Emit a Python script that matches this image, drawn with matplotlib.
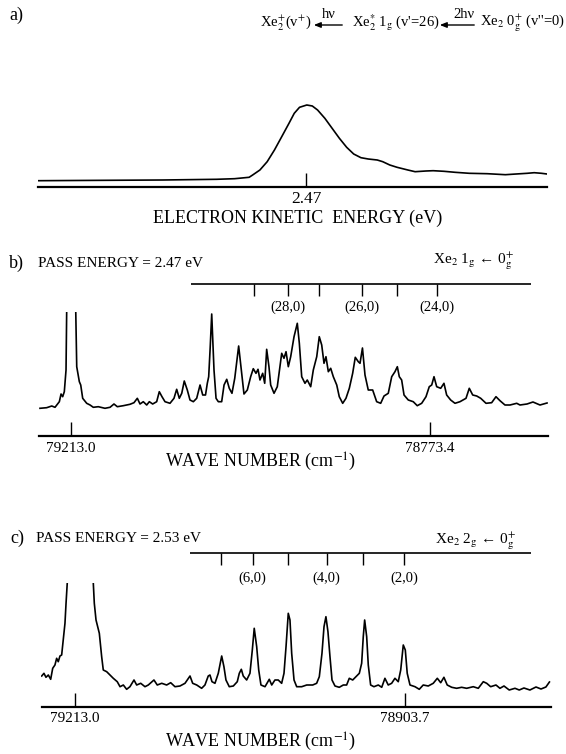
import numpy as np
import matplotlib
matplotlib.use("Agg")
import matplotlib.pyplot as plt

plt.rcParams['font.family'] = ['Liberation Serif', 'DejaVu Serif']
plt.rcParams['mathtext.fontset'] = 'stix'

# ---------------- data ----------------
# a) electron kinetic energy spectrum
a_energy = [1.400, 1.680, 1.897, 2.112, 2.184, 2.242, 2.256, 2.285, 2.314, 2.343,
            2.372, 2.401, 2.422, 2.443, 2.472, 2.494, 2.515, 2.544, 2.573, 2.602,
            2.631, 2.659, 2.688, 2.717, 2.753, 2.775, 2.803, 2.832, 2.875, 2.904,
            2.947, 2.976, 3.019, 3.063, 3.120, 3.192, 3.264, 3.307, 3.351, 3.379,
            3.408, 3.430]
a_signal = [0.3, 0.7, 1.0, 1.7, 2.3, 3.7, 6.0, 11.0, 19.3, 31.0,
            44.3, 57.7, 67.7, 73.7, 76.0, 75.0, 71.0, 62.7, 52.7, 42.7,
            33.7, 27.0, 23.3, 22.0, 21.0, 19.3, 16.0, 13.7, 11.0, 9.3,
            10.0, 10.3, 9.7, 8.7, 7.7, 7.3, 6.3, 7.0, 7.7, 8.3,
            7.7, 7.0]
a_tick = [2.47]
a_tick_labels = ['2.47']

# b) pass energy 2.47 eV
b_wavenumber = [79251.0, 79242.8, 79236.6, 79232.6, 79227.3, 79225.2, 79223.2, 79221.2, 79219.1, 79218.3,
                79213.0, 79207.2, 79206.0, 79202.8, 79201.1, 79198.7, 79193.8, 79189.7, 79185.7, 79179.6,
                79171.4, 79165.2, 79160.4, 79156.3, 79149.0, 79140.8, 79135.9, 79131.8, 79128.5, 79124.5,
                79120.3, 79117.1, 79113.0, 79108.1, 79104.9, 79101.6, 79097.9, 79091.8, 79086.9, 79083.6,
                79080.4, 79077.4, 79074.3, 79070.6, 79067.3, 79063.2, 79059.1, 79055.0, 79051.7, 79048.3,
                79046.1, 79044.4, 79042.6, 79040.7, 79037.9, 79035.4, 79032.6, 79028.5, 79025.6, 79022.3,
                79019.2, 79015.9, 79012.5, 79007.7, 79004.5, 79001.2, 78997.1, 78993.0, 78989.8, 78986.5,
                78984.0, 78981.6, 78978.3, 78975.8, 78973.4, 78970.6, 78968.5, 78964.4, 78960.4, 78955.0,
                78952.2, 78949.7, 78946.9, 78944.0, 78939.9, 78935.9, 78933.4, 78930.5, 78926.5, 78923.7,
                78919.5, 78916.3, 78912.1, 78909.0, 78906.0, 78903.2, 78900.8, 78897.9, 78895.0, 78891.8,
                78887.6, 78884.5, 78880.3, 78876.3, 78872.2, 78868.1, 78864.9, 78861.2, 78859.1, 78856.1,
                78853.0, 78849.0, 78843.6, 78838.7, 78833.8, 78829.7, 78824.5, 78820.3, 78816.3, 78813.4,
                78811.0, 78808.1, 78805.2, 78800.0, 78793.9, 78789.0, 78783.6, 78778.3, 78774.3, 78771.3,
                78768.5, 78765.2, 78760.3, 78756.3, 78753.0, 78748.1, 78742.8, 78736.7, 78729.3, 78725.3,
                78721.1, 78716.2, 78711.3, 78704.8, 78697.9, 78692.6, 78687.7, 78681.6, 78675.4, 78667.2,
                78663.2, 78654.6, 78647.3, 78638.7, 78630.1]
b_signal = [-0.3, 0.3, 2.0, 0.7, 6.3, 14.0, 11.3, 16.3, 38.0, 97.0,
            170.0, 97.0, 41.3, 26.3, 23.0, 9.7, 4.7, 3.0, 0.7, 1.3,
            -0.3, 0.7, 4.0, 1.3, 2.3, 3.7, 5.3, 9.7, 4.0, 6.3,
            3.0, 6.3, 4.0, 6.3, 16.3, 11.3, 6.3, 4.7, 9.7, 18.7,
            9.7, 14.7, 27.0, 18.0, 8.0, 6.3, 9.7, 23.0, 13.0, 13.0,
            24.7, 31.3, 60.0, 94.0, 38.0, 9.7, 6.3, 6.3, 23.0, 28.7,
            19.7, 14.7, 29.7, 62.0, 38.0, 14.0, 18.0, 31.3, 39.3, 34.7,
            38.7, 28.0, 34.7, 24.7, 58.7, 41.3, 23.0, 14.7, 21.3, 54.7,
            49.7, 56.3, 41.3, 51.3, 71.3, 84.7, 64.7, 31.3, 24.7, 28.0,
            21.3, 38.0, 51.3, 71.3, 63.0, 44.7, 51.3, 36.3, 39.7, 31.3,
            23.0, 11.3, 4.7, 9.7, 19.7, 34.7, 50.7, 46.3, 44.7, 60.0,
            33.0, 18.0, 18.0, 6.3, 4.7, 12.0, 14.7, 31.3, 36.3, 41.3,
            31.3, 28.0, 13.0, 8.0, 6.3, 2.3, 4.7, 11.3, 21.3, 23.0,
            31.3, 21.3, 19.7, 24.7, 13.0, 8.0, 4.7, 6.3, 9.7, 19.7,
            13.0, 12.0, 9.7, 4.7, 5.3, 11.3, 7.3, 3.0, 3.0, 4.7,
            3.0, 4.0, 6.0, 3.0, 5.0]
b_ticks = [79213.0, 78773.4]
b_tick_labels = ['79213.0', '78773.4']
b_comb_wn = [78988.4, 78947.6, 78908.8, 78857.0, 78814.1, 78765.1]
b_comb_labels = ['', '(28,0)', '', '(26,0)', '', '(24,0)']
b_comb_span = [79066.1, 78649.7]
b_xlim = [79252.2, 78628.9]

# c) pass energy 2.53 eV
c_wavenumber = [79244.2, 79242.1, 79240.2, 79238.0, 79235.8, 79233.9, 79231.8, 79230.2, 79228.7, 79227.1,
                79225.5, 79224.0, 79222.4, 79221.4, 79220.2, 79208.3, 79195.9, 79194.9, 79193.3, 79190.2,
                79188.0, 79186.5, 79183.3, 79180.2, 79177.1, 79173.4, 79170.8, 79167.7, 79164.6, 79161.5,
                79157.7, 79155.2, 79151.4, 79147.4, 79144.3, 79139.0, 79135.9, 79131.7, 79127.1, 79123.3,
                79119.3, 79114.6, 79109.9, 79105.2, 79102.7, 79098.9, 79094.3, 79091.2, 79088.1, 79086.5,
                79084.6, 79081.8, 79078.7, 79075.5, 79073.4, 79071.5, 79068.4, 79064.6, 79060.9, 79059.0,
                79057.1, 79055.3, 79052.1, 79049.0, 79046.8, 79045.0, 79042.7, 79040.8, 79038.7, 79034.9,
                79030.9, 79028.6, 79025.6, 79022.5, 79019.3, 79017.1, 79015.2, 79013.1, 79011.5, 79009.9,
                79007.7, 79005.2, 79000.5, 78995.8, 78990.2, 78986.5, 78984.0, 78981.5, 78979.6, 78977.8,
                78975.9, 78974.0, 78972.1, 78969.3, 78965.3, 78961.5, 78958.4, 78955.9, 78952.7, 78949.6,
                78946.5, 78944.3, 78942.8, 78941.5, 78939.6, 78938.1, 78935.9, 78932.8, 78928.7, 78925.5,
                78922.5, 78919.4, 78916.2, 78913.1, 78910.0, 78907.7, 78905.3, 78903.4, 78901.6, 78899.0,
                78894.3, 78890.3, 78886.6, 78881.9, 78877.2, 78873.4, 78870.2, 78867.2, 78864.1, 78859.9,
                78855.3, 78850.6, 78845.9, 78839.7, 78835.0, 78830.3, 78827.1, 78823.4, 78818.4, 78814.7,
                78810.9, 78806.0, 78800.6, 78796.6, 78792.2, 78786.6, 78780.9, 78776.2, 78771.6, 78768.3]
c_signal = [12.0, 14.7, 10.7, 13.0, 8.7, 19.7, 23.0, 29.7, 26.3, 32.0,
            33.0, 48.0, 64.7, 84.7, 106.0, 200.0, 106.0, 84.7, 68.0, 54.7,
            31.3, 18.0, 16.3, 13.0, 9.7, 6.3, 1.3, 3.0, -1.3, 1.3,
            8.0, 3.0, 4.7, 1.3, 3.0, 8.0, 3.0, 4.7, 3.0, 5.3,
            1.3, 2.0, 4.7, 12.0, 4.7, 3.0, -0.3, 3.0, 12.0, 13.0,
            6.3, 4.7, 14.7, 32.0, 21.3, 8.0, 1.3, 2.0, 6.3, 14.7,
            18.7, 12.0, 8.0, 14.7, 38.0, 59.7, 41.3, 18.0, 3.0, 1.3,
            8.7, 3.0, 8.0, 8.0, 4.7, 14.7, 41.3, 74.7, 68.0, 34.7,
            8.0, 1.3, 1.3, 3.0, 3.0, 4.7, 11.3, 34.7, 61.3, 71.3,
            56.3, 31.3, 8.0, 2.0, 0.7, 3.0, 3.0, 9.7, 8.0, 11.3,
            14.7, 24.7, 51.3, 68.0, 51.3, 23.0, 3.0, 1.3, 3.0, 0.7,
            9.7, 3.0, 4.7, 9.7, 6.3, 18.0, 43.0, 38.0, 14.7, 3.0,
            1.3, -1.3, 3.0, 2.0, 4.7, 9.7, 5.3, 10.7, 3.0, 0.7,
            -0.3, 0.7, -0.3, 1.3, -0.3, 6.3, 4.7, 1.3, 3.0, -0.3,
            2.0, -2.0, -0.3, -2.0, 0.0, -2.0, 1.0, -1.0, 1.0, 6.0]
c_ticks = [79213.0, 78903.7]
c_tick_labels = ['79213.0', '78903.7']
c_comb_wn = [79076.2, 79046.5, 79013.7, 78977.1, 78942.6, 78904.4]
c_comb_labels = ['', '(6,0)', '', '(4,0)', '', '(2,0)']
c_comb_span = [79105.2, 78785.9]
c_xlim = [79244.4, 78767.3]

# ---------------- layout helpers (pixel positions) ----------------
W, H = 566, 754
fig = plt.figure(figsize=(W / 100, H / 100), dpi=100)


def fx(x):
    return x / W


def fy(y):
    return 1 - y / H


def panel(x0, x1, ytop, ybot):
    ax = fig.add_axes([fx(x0), fy(ybot), (x1 - x0) / W, (ybot - ytop) / H])
    for s in ['top', 'left', 'right']:
        ax.spines[s].set_visible(False)
    ax.spines['bottom'].set_linewidth(1.6)
    ax.set_yticks([])
    ax.tick_params(axis='x', direction='in', length=10, width=1.0, pad=4,
                   labelsize=11)
    ax.patch.set_visible(False)
    ay = lambda y: (ybot - y) / (ybot - ytop)
    return ax, ay


def ftext(x, y, s, **kw):
    fig.text(fx(x), fy(y), s, **kw)


def left_arrow(x_from, x_to, y):
    fig.add_artist(matplotlib.patches.FancyArrowPatch(
        (fx(x_from), fy(y)), (fx(x_to), fy(y)), transform=fig.transFigure,
        arrowstyle='-|>,head_length=4,head_width=1.6', lw=1.0, color='k',
        mutation_scale=1))


# ---------------- panel a ----------------
axa, aya = panel(38, 547, 100, 187.3)
axa.plot(a_energy, a_signal, color='k', lw=1.2)
axa.set_xlim(1.40, 3.43)
axa.set_ylim(-6.3, 81)
axa.set_xticks(a_tick)
axa.set_xticklabels(a_tick_labels, fontsize=12.5)
axa.tick_params(axis='x', pad=3)

ftext(16, 15, 'a)', fontsize=13, ha='center', va='center')
ftext(260, 23, r'Xe$_2^{+}$(v$^{+}$)', fontsize=10.5, ha='left', va='center')
left_arrow(345, 311, 25)
ftext(329, 15, 'hν', fontsize=10.5, ha='center', va='center')
ftext(352, 23, r"Xe$_2^{*}$ 1$_{\mathrm{g}}$ (v'=26)", fontsize=10.5, ha='left', va='center')
left_arrow(477, 437, 25)
ftext(464, 14, '2hν', fontsize=10.5, ha='center', va='center')
ftext(480, 23, r"Xe$_2$ 0$_{\mathrm{g}}^{+}$ (v''=0)", fontsize=10.5, ha='left', va='center')
ftext(298, 218, 'ELECTRON KINETIC  ENERGY (eV)', fontsize=13, ha='center', va='center')


# ---------------- spectra panels b and c ----------------
def spectrum_panel(ytop, ybot, wn, sig, xlim, ylim, ticks, tick_labels,
                   comb_wn, comb_labels, comb_span, comb_y, comb_lab_y,
                   x0, x1):
    ax, ay = panel(x0, x1, ytop, ybot)
    ax.plot(wn, sig, color='k', lw=1.2)
    ax.set_xlim(*xlim)
    ax.set_ylim(*ylim)
    ax.set_xticks(ticks)
    ax.set_xticklabels(tick_labels)
    tr = ax.get_xaxis_transform()
    ax.hlines(ay(comb_y), comb_span[0], comb_span[1], transform=tr,
              color='k', lw=1.2, clip_on=False)
    ax.vlines(comb_wn, ay(comb_y + 12), ay(comb_y), transform=tr,
              color='k', lw=1.0, clip_on=False)
    for w, lab in zip(comb_wn, comb_labels):
        if lab:
            ax.text(w, ay(comb_lab_y), lab, transform=tr, ha='center',
                    va='center', fontsize=10.5, clip_on=False)
    return ax


spectrum_panel(311.7, 436, b_wavenumber, b_signal, b_xlim, (-28, 96.3),
               b_ticks, b_tick_labels, b_comb_wn, b_comb_labels, b_comb_span,
               283.5, 307.5, 39, 548)
ftext(16, 263, 'b)', fontsize=13, ha='center', va='center')
ftext(38, 263, 'PASS ENERGY = 2.47 eV', fontsize=11, ha='left', va='center')
ftext(433, 261, r'Xe$_2$ 1$_{\mathrm{g}}$ ← 0$_{\mathrm{g}}^{+}$',
      fontsize=11, ha='left', va='center')
ftext(261, 462, r'WAVE NUMBER (cm$^{-1}$)', fontsize=13, ha='center', va='center')

spectrum_panel(583, 706.7, c_wavenumber, c_signal, c_xlim, (-18.7, 105),
               c_ticks, c_tick_labels, c_comb_wn, c_comb_labels, c_comb_span,
               553.3, 578.5, 41.5, 550.5)
ftext(17, 538, 'c)', fontsize=13, ha='center', va='center')
ftext(36, 538, 'PASS ENERGY = 2.53 eV', fontsize=11, ha='left', va='center')
ftext(435, 541, r'Xe$_2$ 2$_{\mathrm{g}}$ ← 0$_{\mathrm{g}}^{+}$',
      fontsize=11, ha='left', va='center')
ftext(261, 742, r'WAVE NUMBER (cm$^{-1}$)', fontsize=13, ha='center', va='center')

fig.savefig('out.png', dpi=100)
